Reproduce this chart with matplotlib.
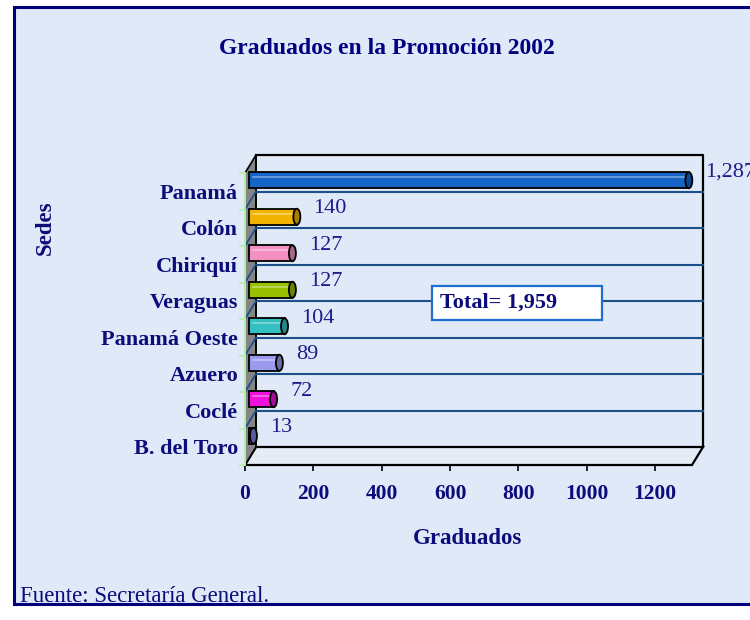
import matplotlib
matplotlib.use("Agg")
import matplotlib.pyplot as plt
from matplotlib.patches import Rectangle, Polygon, Ellipse
import matplotlib.colors as mcolors
import numpy as np

# ---------------- data ----------------
categories = ["Panamá", "Colón", "Chiriquí", "Veraguas", "Panamá Oeste",
              "Azuero", "Coclé", "B. del Toro"]
values = [1287, 140, 127, 127, 104, 89, 72, 13]
value_labels = ["1,287", "140", "127", "127", "104", "89", "72", "13"]
bar_colors = ["#1565c8", "#f0b400", "#f290c2", "#98c000", "#33c0c0",
              "#9a9aee", "#ee10dd", "#8484e0"]
xticks = [0, 200, 400, 600, 800, 1000, 1200]
xtick_labels = ["0", "200", "400", "600", "800", "1000", "1200"]
title = "Graduados en la Promoción 2002"
xlabel = "Graduados"
ylabel = "Sedes"
total_text = "Total= 1,959"
source_text = "Fuente: Secretaría General."

# ---------------- style ----------------
W, H = 750, 620
SERIF = ["Liberation Serif", "DejaVu Serif"]
NAVY = "#0c0c7a"
BG = "#dfe9f7"
XMAX = 1308

plt.rcParams["font.family"] = SERIF

fig = plt.figure(figsize=(W / 100, H / 100), dpi=100)
fig.patch.set_facecolor("white")

# outer frame with light-blue background
frame = Rectangle((14 / W, 1 - 604 / H), (W + 10 - 14) / W, (604 - 7) / H,
                  transform=fig.transFigure, facecolor=BG, edgecolor="#00007a",
                  lw=2.2, zorder=-5)
fig.patches.append(frame)

ax = fig.add_axes([245 / W, 1 - 465 / H, 447 / W, 292 / H])
ax.set_zorder(1)
ax.set_xlim(0, XMAX)
n = len(categories)
ax.set_ylim(-0.5, n - 0.5)
ax.patch.set_alpha(0)
for s in ax.spines.values():
    s.set_visible(False)

px_x = XMAX / 447.0
px_y = n / 292.0
dX, dY = 11 * px_x, 18 * px_y
ytop, ybot = n - 0.5, -0.5

# floor
floor = Polygon([(0, ybot), (XMAX, ybot), (XMAX + dX, ybot + dY), (dX, ybot + dY)],
                closed=True, facecolor="#e6ecf5", edgecolor="black", lw=1.6,
                clip_on=False, zorder=1)
ax.add_patch(floor)
# left wall
wall = Polygon([(0, ybot), (dX, ybot + dY), (dX, ytop + dY), (0, ytop)],
               closed=True, facecolor="#858585", edgecolor="black", lw=1.2,
               clip_on=False, zorder=1)
ax.add_patch(wall)
# back wall outline
ax.plot([dX, XMAX + dX, XMAX + dX], [ytop + dY, ytop + dY, ybot + dY],
        color="black", lw=1.6, clip_on=False, zorder=1)
ax.plot([dX, dX], [ybot + dY, ytop + dY], color="black", lw=1.2,
        clip_on=False, zorder=1)

# gridlines between categories on back wall and left wall
for k in range(1, n):
    yb = k - 0.5
    ax.plot([dX, XMAX + dX], [yb + dY, yb + dY], color="#1d4f8a", lw=1.5,
            clip_on=False, zorder=2)
    ax.plot([0, dX], [yb, yb + dY], color="#1d4f8a", lw=1.3,
            clip_on=False, zorder=2)

# front left edge (light green)
ax.plot([0, 0], [ybot, ytop], color="#bdf0b4", lw=1.4, clip_on=False, zorder=3)

# bars
ox, oy = 4 * px_x, 11 * px_y
bh = 16 * px_y
capw = 7 * px_x
for idx, (cat, v, c) in enumerate(zip(categories, values, bar_colors)):
    y = n - 1 - idx
    yc = y + oy
    rgb = np.array(mcolors.to_rgb(c))
    light = np.clip(rgb + (1 - rgb) * 0.45, 0, 1)
    dark = rgb * 0.7
    ax.add_patch(Rectangle((ox, yc - bh / 2), v, bh, facecolor=c,
                           edgecolor="black", lw=1.3, clip_on=False, zorder=5))
    ax.plot([ox + capw / 2, ox + v], [yc + bh * 0.18] * 2, color=light, lw=1.1,
            clip_on=False, zorder=6)
    ax.add_patch(Ellipse((ox + v, yc), capw, bh, facecolor=dark,
                         edgecolor="black", lw=1.3, clip_on=False, zorder=6))
    ax.annotate(value_labels[idx], xy=(ox + v + capw / 2, yc), xytext=(13, 8),
                textcoords="offset pixels", ha="left", va="center",
                fontsize=16, color="#1c1c8c", zorder=7, annotation_clip=False)

# axes ticks
ax.set_xticks(xticks)
ax.set_xticklabels(xtick_labels)
ax.tick_params(axis="x", direction="out", length=4, width=1.2, color="black",
               pad=10, labelsize=15.5, labelcolor=NAVY)
for lab in ax.get_xticklabels():
    lab.set_fontweight("bold")

ax.set_yticks(range(n))
ax.set_yticklabels(categories[::-1])
ax.set_yticks(np.arange(-0.5, n, 1.0), minor=True)
ax.tick_params(axis="y", which="major", length=0, pad=5, labelsize=16,
               labelcolor=NAVY)
ax.tick_params(axis="y", which="minor", length=4, width=1.4, color="#bdf0b4",
               direction="out")
for lab in ax.get_yticklabels():
    lab.set_fontweight("bold")

# total box
box = Rectangle((432 / W, 1 - 320 / H), 170 / W, 34 / H, transform=fig.transFigure,
                facecolor="white", edgecolor="#1f6fd0", lw=1.6, zorder=8)
fig.patches.append(box)
fig.text(440 / W, 1 - 303 / H, total_text, ha="left", va="center", fontsize=16,
         fontweight="bold", color=NAVY, zorder=9)

# titles
fig.text(387 / W, 1 - 48 / H, title, ha="center", va="center", fontsize=17,
         fontweight="bold", color="#000080")
fig.text(467 / W, 1 - 539 / H, xlabel, ha="center", va="center", fontsize=16.5,
         fontweight="bold", color=NAVY)
fig.text(45 / W, 1 - 228 / H, ylabel, ha="center", va="center", fontsize=16.5,
         fontweight="bold", color=NAVY, rotation=90)
fig.text(20 / W, 1 - 596 / H, source_text, ha="left", va="center", fontsize=16.5,
         color=NAVY)

fig.savefig("out.png", dpi=100)
